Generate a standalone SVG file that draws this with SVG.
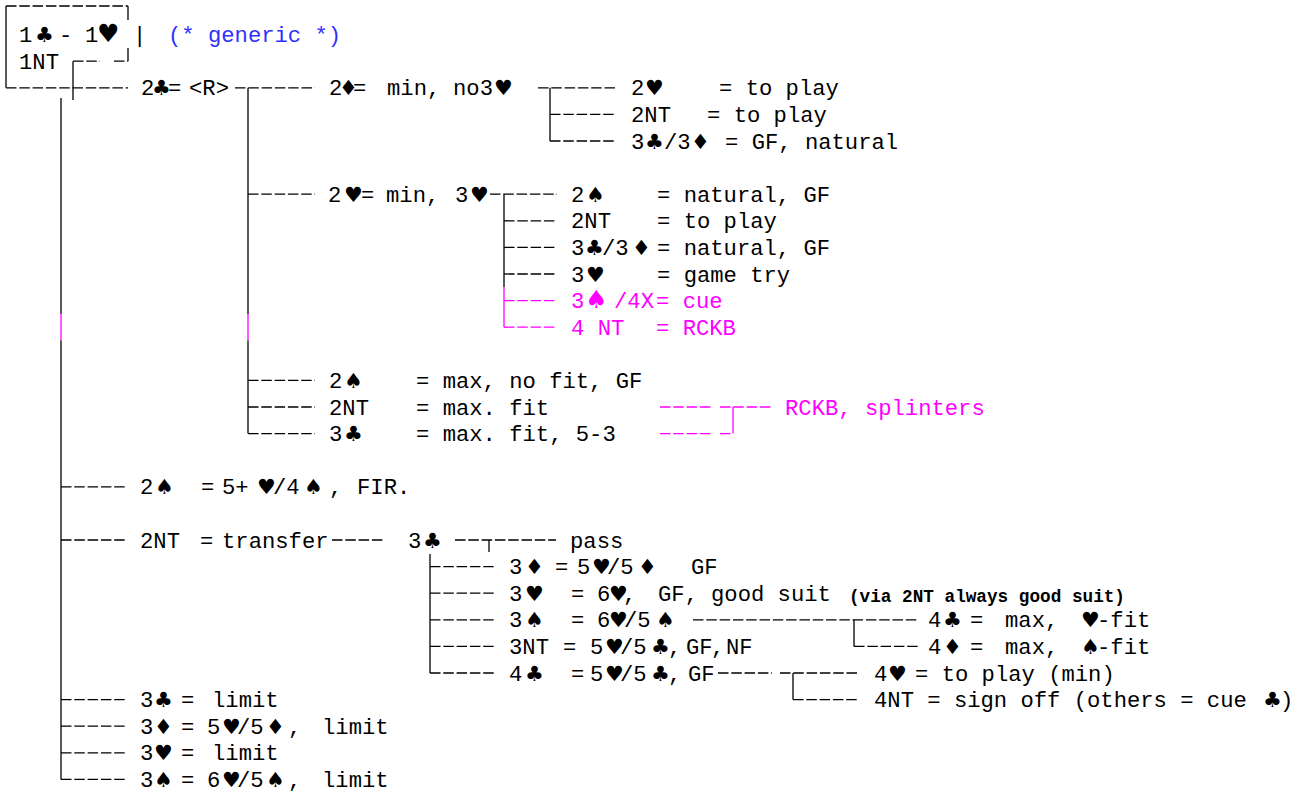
<svg xmlns="http://www.w3.org/2000/svg" width="1308" height="796" viewBox="0 0 1308 796">
<style>
text{font-family:"Liberation Mono","DejaVu Sans Mono",monospace;font-size:22.2px;fill:#000}
.s{font-family:"DejaVu Sans",sans-serif;font-size:21px}
.S{font-family:"DejaVu Sans",sans-serif;font-size:25px}
.pk{fill:#ff00ff}
.bl{fill:#3030ff}
.bd{font-weight:bold;font-size:17.7px}
#connectors line{stroke:#000;stroke-width:1.3}
#connectors .d{stroke-dasharray:10.5 2.8}
#connectors .p{stroke:#ff00ff}
</style>
<rect width="1308" height="796" fill="#fff"/>
<g id="connectors">
<line x1="6" y1="6" x2="6" y2="87.8"/>
<line class="d" x1="6" y1="6" x2="128" y2="6"/>
<line x1="128" y1="6" x2="128" y2="20"/>
<line x1="128" y1="48" x2="128" y2="61.2"/>
<line class="d" x1="114" y1="61.2" x2="128" y2="61.2"/>
<line class="d" x1="73" y1="61.2" x2="100" y2="61.2"/>
<line x1="73" y1="61.2" x2="73" y2="100"/>
<line class="d" x1="6" y1="87.8" x2="128" y2="87.8"/>
<line x1="61" y1="98" x2="61" y2="314"/>
<line class="p" x1="61" y1="314" x2="61" y2="340.5"/>
<line x1="61" y1="340.5" x2="61" y2="779.4"/>
<line class="d" x1="61" y1="486.8" x2="127" y2="486.8"/>
<line class="d" x1="61" y1="540" x2="127" y2="540"/>
<line class="d" x1="61" y1="699.6" x2="127" y2="699.6"/>
<line class="d" x1="61" y1="726.2" x2="127" y2="726.2"/>
<line class="d" x1="61" y1="752.8" x2="127" y2="752.8"/>
<line class="d" x1="61" y1="779.4" x2="127" y2="779.4"/>
<line class="d" x1="235" y1="87.8" x2="315" y2="87.8"/>
<line x1="248" y1="87.8" x2="248" y2="314"/>
<line class="p" x1="248" y1="314" x2="248" y2="340.5"/>
<line x1="248" y1="340.5" x2="248" y2="433.6"/>
<line class="d" x1="248" y1="194.2" x2="315" y2="194.2"/>
<line class="d" x1="248" y1="380.4" x2="315" y2="380.4"/>
<line class="d" x1="248" y1="407" x2="315" y2="407"/>
<line class="d" x1="248" y1="433.6" x2="315" y2="433.6"/>
<line class="d" x1="538" y1="87.8" x2="616" y2="87.8"/>
<line x1="550" y1="87.8" x2="550" y2="141"/>
<line class="d" x1="550" y1="114.4" x2="616" y2="114.4"/>
<line class="d" x1="550" y1="141" x2="616" y2="141"/>
<line class="d" x1="490" y1="194.2" x2="557" y2="194.2"/>
<line x1="504" y1="194.2" x2="504" y2="287.3"/>
<line class="p" x1="504" y1="287.3" x2="504" y2="327.2"/>
<line class="d" x1="504" y1="220.8" x2="557" y2="220.8"/>
<line class="d" x1="504" y1="247.4" x2="557" y2="247.4"/>
<line class="d" x1="504" y1="274" x2="557" y2="274"/>
<line class="d p" x1="504" y1="300.6" x2="557" y2="300.6"/>
<line class="d p" x1="504" y1="327.2" x2="557" y2="327.2"/>
<line class="d p" x1="660" y1="407" x2="711" y2="407"/>
<line class="d p" x1="720" y1="407" x2="772" y2="407"/>
<line class="p" x1="733" y1="407" x2="733" y2="433.6"/>
<line class="d p" x1="660" y1="433.6" x2="711" y2="433.6"/>
<line class="d p" x1="720" y1="433.6" x2="733" y2="433.6"/>
<line class="d" x1="332" y1="540" x2="384" y2="540"/>
<line class="d" x1="455" y1="540" x2="556" y2="540"/>
<line x1="489" y1="540" x2="489" y2="552"/>
<line x1="430" y1="554" x2="430" y2="673"/>
<line class="d" x1="430" y1="566.6" x2="495" y2="566.6"/>
<line class="d" x1="430" y1="593.2" x2="495" y2="593.2"/>
<line class="d" x1="430" y1="619.8" x2="495" y2="619.8"/>
<line class="d" x1="430" y1="646.4" x2="495" y2="646.4"/>
<line class="d" x1="430" y1="673" x2="495" y2="673"/>
<line class="d" x1="693" y1="619.8" x2="918" y2="619.8"/>
<line x1="854" y1="619.8" x2="854" y2="646.4"/>
<line class="d" x1="854" y1="646.4" x2="918" y2="646.4"/>
<line class="d" x1="718" y1="673" x2="772" y2="673"/>
<line class="d" x1="780" y1="673" x2="857" y2="673"/>
<line x1="793" y1="673" x2="793" y2="699.6"/>
<line class="d" x1="793" y1="699.6" x2="857" y2="699.6"/>
</g>
<g id="n-opening"><text y="42"><tspan x="19">1</tspan><tspan class="s" x="35">♣</tspan><tspan x="59">-</tspan><tspan x="85">1</tspan><tspan class="S" x="97">♥</tspan><tspan x="133">|</tspan><tspan class="bl" x="168">(* generic *)</tspan></text><text x="19" y="68.7">1NT</text></g>
<g id="n-2c"><text y="95.3"><tspan x="141">2</tspan><tspan class="s" x="152">♣</tspan><tspan x="168">=</tspan><tspan x="189">&lt;R&gt;</tspan></text></g>
<g id="n-2d"><text y="95.3"><tspan x="329">2</tspan><tspan class="s" x="339">♦</tspan><tspan x="353">=</tspan><tspan x="387">min,</tspan><tspan x="453">no3</tspan><tspan class="s" x="494">♥</tspan></text></g>
<g id="n-2d-2h"><text y="95.3"><tspan x="631">2</tspan><tspan class="s" x="645">♥</tspan><tspan x="719">= to play</tspan></text></g>
<g id="n-2d-2nt"><text y="121.9"><tspan x="631">2NT</tspan><tspan x="707">= to play</tspan></text></g>
<g id="n-2d-3m"><text y="148.5"><tspan x="631">3</tspan><tspan class="s" x="645">♣</tspan><tspan x="664">/3</tspan><tspan class="s" x="691">♦</tspan><tspan x="725">= GF, natural</tspan></text></g>
<g id="n-2h"><text y="201.7"><tspan x="328">2</tspan><tspan class="s" x="344">♥</tspan><tspan x="361">=</tspan><tspan x="386">min,</tspan><tspan x="455">3</tspan><tspan class="s" x="470">♥</tspan></text></g>
<g id="n-2h-2s"><text y="201.7"><tspan x="571">2</tspan><tspan class="s" x="586">♠</tspan><tspan x="657">= natural, GF</tspan></text></g>
<g id="n-2h-2nt"><text y="228.3"><tspan x="571">2NT</tspan><tspan x="657">= to play</tspan></text></g>
<g id="n-2h-3m"><text y="254.9"><tspan x="571">3</tspan><tspan class="s" x="585">♣</tspan><tspan x="602">/3</tspan><tspan class="s" x="632">♦</tspan><tspan x="657">= natural, GF</tspan></text></g>
<g id="n-2h-3h"><text y="281.5"><tspan x="571">3</tspan><tspan class="s" x="586">♥</tspan><tspan x="657">= game try</tspan></text></g>
<g id="n-2h-3s"><text y="308.1" class="pk"><tspan x="571">3</tspan><tspan class="S" x="585">♠</tspan><tspan x="614">/4X</tspan><tspan x="656">= cue</tspan></text></g>
<g id="n-2h-4nt"><text y="334.7" class="pk"><tspan x="571">4 NT</tspan><tspan x="656">= RCKB</tspan></text></g>
<g id="n-2s"><text y="387.9"><tspan x="329">2</tspan><tspan class="s" x="344">♠</tspan><tspan x="416">= max, no fit, GF</tspan></text></g>
<g id="n-2nt"><text y="414.5"><tspan x="329">2NT</tspan><tspan x="416">= max. fit</tspan></text></g>
<g id="n-3c"><text y="441.1"><tspan x="329">3</tspan><tspan class="s" x="344">♣</tspan><tspan x="416">= max. fit, 5-3</tspan></text></g>
<g id="n-rckb"><text x="785" y="414.5" class="pk">RCKB, splinters</text></g>
<g id="n-2s-fir"><text y="494.3"><tspan x="140">2</tspan><tspan class="s" x="155">♠</tspan><tspan x="201">=</tspan><tspan x="222">5+</tspan><tspan class="s" x="257">♥</tspan><tspan x="273">/4</tspan><tspan class="s" x="304">♠</tspan><tspan x="329">,</tspan><tspan x="357">FIR.</tspan></text></g>
<g id="n-2nt-tr"><text y="547.5"><tspan x="140">2NT</tspan><tspan x="200">=</tspan><tspan x="222">transfer</tspan></text></g>
<g id="n-3c-relay"><text y="547.5"><tspan x="408">3</tspan><tspan class="s" x="423">♣</tspan></text></g>
<g id="n-pass"><text x="570" y="547.5">pass</text></g>
<g id="n-3d"><text y="574.1"><tspan x="509">3</tspan><tspan class="s" x="525">♦</tspan><tspan x="555">=</tspan><tspan x="577">5</tspan><tspan class="s" x="592">♥</tspan><tspan x="607">/5</tspan><tspan class="s" x="638">♦</tspan><tspan x="691">GF</tspan></text></g>
<g id="n-3h"><text y="600.7"><tspan x="509">3</tspan><tspan class="s" x="525">♥</tspan><tspan x="571">=</tspan><tspan x="597">6</tspan><tspan class="s" x="609">♥</tspan><tspan x="623">,</tspan><tspan x="658">GF,</tspan><tspan x="711">good suit</tspan></text><text class="bd" x="849" y="602">(via 2NT always good suit)</text></g>
<g id="n-3s"><text y="627.3"><tspan x="509">3</tspan><tspan class="s" x="525">♠</tspan><tspan x="571">=</tspan><tspan x="597">6</tspan><tspan class="s" x="609">♥</tspan><tspan x="624">/5</tspan><tspan class="s" x="656">♠</tspan></text></g>
<g id="n-4c-hfit"><text y="627.3"><tspan x="928">4</tspan><tspan class="s" x="943">♣</tspan><tspan x="970">=</tspan><tspan x="1005">max,</tspan><tspan class="s" x="1081">♥</tspan><tspan x="1097">-fit</tspan></text></g>
<g id="n-4d-sfit"><text y="653.9"><tspan x="928">4</tspan><tspan class="s" x="943">♦</tspan><tspan x="970">=</tspan><tspan x="1005">max,</tspan><tspan class="s" x="1081">♠</tspan><tspan x="1097">-fit</tspan></text></g>
<g id="n-3nt"><text y="653.9"><tspan x="509">3NT</tspan><tspan x="563">=</tspan><tspan x="590">5</tspan><tspan class="s" x="605">♥</tspan><tspan x="620">/5</tspan><tspan class="s" x="651">♣</tspan><tspan x="668">,</tspan><tspan x="686">GF</tspan><tspan x="711">,</tspan><tspan x="726">NF</tspan></text></g>
<g id="n-4c"><text y="680.5"><tspan x="509">4</tspan><tspan class="s" x="525">♣</tspan><tspan x="571">=</tspan><tspan x="590">5</tspan><tspan class="s" x="605">♥</tspan><tspan x="620">/5</tspan><tspan class="s" x="651">♣</tspan><tspan x="668">,</tspan><tspan x="688">GF</tspan></text></g>
<g id="n-4h-play"><text y="680.5"><tspan x="874">4</tspan><tspan class="s" x="888">♥</tspan><tspan x="915">= to play (min)</tspan></text></g>
<g id="n-4nt-so"><text y="707.1"><tspan x="874">4NT = sign off (others = cue</tspan><tspan class="s" x="1263">♣</tspan><tspan x="1280">)</tspan></text></g>
<g id="n-3c-limit"><text y="707.1"><tspan x="140">3</tspan><tspan class="s" x="154">♣</tspan><tspan x="181">=</tspan><tspan x="212">limit</tspan></text></g>
<g id="n-3d-limit"><text y="733.7"><tspan x="140">3</tspan><tspan class="s" x="154">♦</tspan><tspan x="181">=</tspan><tspan x="207">5</tspan><tspan class="s" x="222">♥</tspan><tspan x="237">/5</tspan><tspan class="s" x="266">♦</tspan><tspan x="288">,</tspan><tspan x="322">limit</tspan></text></g>
<g id="n-3h-limit"><text y="760.3"><tspan x="140">3</tspan><tspan class="s" x="154">♥</tspan><tspan x="181">=</tspan><tspan x="212">limit</tspan></text></g>
<g id="n-3s-limit"><text y="786.9"><tspan x="140">3</tspan><tspan class="s" x="154">♠</tspan><tspan x="181">=</tspan><tspan x="207">6</tspan><tspan class="s" x="222">♥</tspan><tspan x="237">/5</tspan><tspan class="s" x="266">♠</tspan><tspan x="288">,</tspan><tspan x="322">limit</tspan></text></g>
</svg>
